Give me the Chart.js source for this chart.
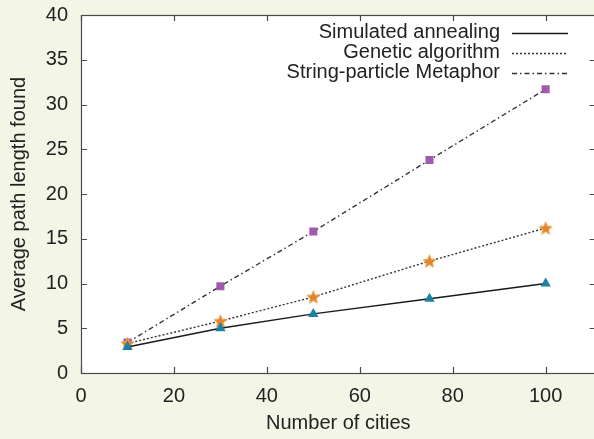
<!DOCTYPE html>
<html><head><meta charset="utf-8">
<script src="https://cdn.jsdelivr.net/npm/chart.js@4/dist/chart.umd.min.js"></script>
<style>
html,body{margin:0;padding:0;background:#f3f6e6;overflow:hidden;width:594px;height:439px}
#c{position:absolute;left:0;top:0}
</style></head><body>
<canvas id="c" width="604" height="439" style="width:604px;height:439px"></canvas>
<script>
const cities = [10, 30, 50, 75, 100];
const annealing = [2.9, 5.0, 6.6, 8.3, 10.0];
const genetic = [3.3, 5.8, 8.5, 12.5, 16.2];
const stringParticle = [3.4, 9.7, 15.8, 23.8, 31.7];
const seriesNames = ['Simulated annealing', 'Genetic algorithm', 'String-particle Metaphor'];
const xTicks = [0, 20, 40, 60, 80, 100];
const yTicks = [0, 5, 10, 15, 20, 25, 30, 35, 40];
const xTitle = 'Number of cities';
const yTitle = 'Average path length found';

const FONT = 'Liberation Sans, Arial, Helvetica, sans-serif';
const TXT = '#222';

function starImage(size, fill, stroke) {
  const c = document.createElement('canvas');
  c.width = size; c.height = size;
  const g = c.getContext('2d');
  const cx = size / 2, cy = size / 2 + 0.6, R = size / 2 - 0.5, r = R * 0.45;
  g.beginPath();
  for (let i = 0; i < 10; i++) {
    const rad = i % 2 === 0 ? R : r;
    const a = -Math.PI / 2 + i * Math.PI / 5;
    const x = cx + rad * Math.cos(a), y = cy + rad * Math.sin(a);
    if (i === 0) g.moveTo(x, y); else g.lineTo(x, y);
  }
  g.closePath();
  g.fillStyle = fill; g.fill();
  g.lineWidth = 0.8; g.strokeStyle = stroke; g.stroke();
  return c;
}
const star = starImage(15, '#e0862a', '#f0b060');

const toXY = (ys) => cities.map((x, i) => ({x, y: ys[i]}));

const datasets = [
  {label: seriesNames[0], data: toXY(annealing), borderColor: '#1a1a1a', borderWidth: 1.4, borderDash: [],
   pointStyle: 'triangle', pointRadius: 6, pointBackgroundColor: '#1b82a3', pointBorderColor: '#1b82a3', pointBorderWidth: 0},
  {label: seriesNames[1], data: toXY(genetic), borderColor: '#333', borderWidth: 1.4, borderDash: [2, 2],
   pointStyle: star, pointRadius: 7},
  {label: seriesNames[2], data: toXY(stringParticle), borderColor: '#333', borderWidth: 1.4, borderDash: [5, 3, 1.5, 3],
   pointStyle: 'rect', pointRadius: 5.7, pointBackgroundColor: '#a05bae', pointBorderColor: '#a05bae', pointBorderWidth: 0}
];
datasets.forEach(d => { d.fill = false; d.tension = 0; d.pointHoverRadius = d.pointRadius; });

const plotBg = {
  id: 'plotBg',
  beforeDraw(chart) {
    const {ctx, chartArea: a} = chart;
    ctx.save(); ctx.fillStyle = '#ffffff';
    ctx.fillRect(a.left, a.top, a.right - a.left, a.bottom - a.top);
    ctx.restore();
  }
};

const frame = {
  id: 'frame',
  beforeDatasetsDraw(chart) {
    const {ctx, chartArea: a, scales} = chart;
    ctx.save();
    ctx.strokeStyle = '#4a4a4a'; ctx.lineWidth = 1.2;
    ctx.strokeRect(a.left + 0.5, a.top + 0.5, a.right - a.left, a.bottom - a.top);
    ctx.beginPath();
    xTicks.forEach(v => {
      const p = Math.round(scales.x.getPixelForValue(v)) + 0.5;
      ctx.moveTo(p, a.bottom); ctx.lineTo(p, a.bottom - 6);
      ctx.moveTo(p, a.top); ctx.lineTo(p, a.top + 6);
    });
    yTicks.forEach(v => {
      const p = Math.round(scales.y.getPixelForValue(v)) + 0.5;
      ctx.moveTo(a.left, p); ctx.lineTo(a.left + 6, p);
      ctx.moveTo(a.right, p); ctx.lineTo(a.right - 6, p);
    });
    ctx.stroke();
    ctx.restore();
  }
};

const keyBox = {
  id: 'keyBox',
  afterDatasetsDraw(chart) {
    const {ctx} = chart;
    ctx.save();
    ctx.font = '20px ' + FONT;
    ctx.fillStyle = TXT;
    ctx.textAlign = 'right'; ctx.textBaseline = 'middle';
    chart.data.datasets.forEach((d, i) => {
      const y = 33 + i * 20;
      ctx.fillText(d.label, 500, y - 1);
      ctx.beginPath();
      ctx.setLineDash(d.borderDash || []);
      ctx.strokeStyle = d.borderColor; ctx.lineWidth = d.borderWidth;
      ctx.moveTo(512, y + 0.5); ctx.lineTo(568, y + 0.5);
      ctx.stroke();
    });
    ctx.restore();
  }
};

new Chart(document.getElementById('c'), {
  type: 'line',
  data: {datasets},
  plugins: [plotBg, frame, keyBox],
  options: {
    responsive: false, animation: false,
    devicePixelRatio: 1,
    layout: {padding: {top: 15, right: 0, left: 0, bottom: 0}},
    plugins: {legend: {display: false}, tooltip: {enabled: false}},
    scales: {
      x: {
        type: 'linear', min: 0, max: 110.75,
        afterBuildTicks: s => { s.ticks = xTicks.map(v => ({value: v})); },
        afterFit: s => { s.height = 66; s.paddingLeft = 0; s.paddingRight = 0; },
        grid: {display: false, drawTicks: false}, border: {display: false},
        ticks: {font: {size: 20, family: FONT}, color: TXT, padding: 11, maxRotation: 0},
        title: {display: true, text: xTitle, font: {size: 20, family: FONT}, color: TXT, padding: {top: 0, bottom: 4}}
      },
      y: {
        type: 'linear', min: 0, max: 40,
        afterBuildTicks: s => { s.ticks = yTicks.map(v => ({value: v})); },
        afterFit: s => { s.width = 81; s.paddingTop = 0; s.paddingBottom = 0; },
        grid: {display: false, drawTicks: false}, border: {display: false},
        ticks: {font: {size: 20, family: FONT}, color: TXT, padding: 13},
        title: {display: true, text: yTitle, font: {size: 20, family: FONT}, color: TXT, padding: {top: 7, bottom: 0}}
      }
    }
  }
});
</script>
</body></html>
